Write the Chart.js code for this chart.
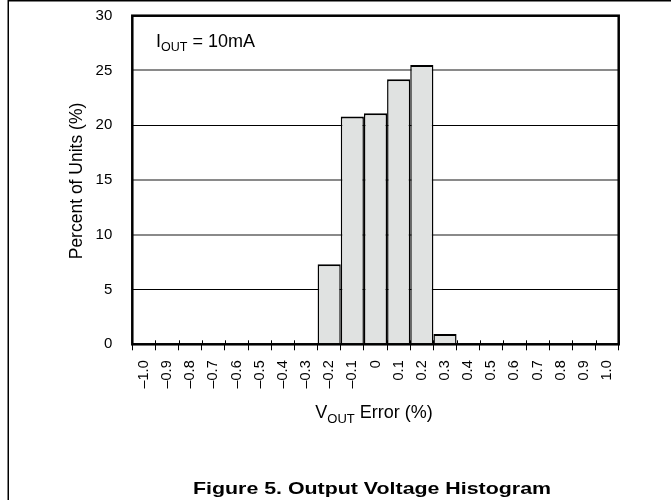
<!DOCTYPE html>
<html>
<head>
<meta charset="utf-8">
<script src="https://cdn.jsdelivr.net/npm/chart.js@4.4.0/dist/chart.umd.min.js"></script>
<style>
html,body{margin:0;padding:0;background:#fff;}
#wrap{width:671px;height:500px;position:relative;}
</style>
</head>
<body>
<div id="wrap"><canvas id="c" width="671" height="500"></canvas></div>
<script>
const categories = ['\u20131.0','\u20130.9','\u20130.8','\u20130.7','\u20130.6','\u20130.5','\u20130.4','\u20130.3','\u20130.2','\u20130.1','0','0.1','0.2','0.3','0.4','0.5','0.6','0.7','0.8','0.9','1.0'];
const percentOfUnits = [0,0,0,0,0,0,0,0,7.3,20.8,21.1,24.2,25.5,0.95,0,0,0,0,0,0,0];
const yTicks = [0,5,10,15,20,25,30];
const yTitle = 'Percent of Units (%)';
const xTitleParts = [['V',false],['OUT',true],[' Error (%)',false]];
const noteParts = [['I',false],['OUT',true],[' = 10mA',false]];
const figureTitle = 'Figure 5. Output Voltage Histogram';

const FONT = '"Liberation Sans", Arial, Helvetica, sans-serif';

function drawParts(ctx, parts, x, y, size, subSize, subDrop, align){
  let w = 0;
  parts.forEach(p=>{ctx.font=(p[1]?subSize:size)+'px '+FONT; w+=ctx.measureText(p[0]).width;});
  let cx = align==='center' ? x - w/2 : x;
  ctx.textAlign='left'; ctx.textBaseline='alphabetic';
  parts.forEach(p=>{
    ctx.font=(p[1]?subSize:size)+'px '+FONT;
    ctx.fillText(p[0], cx, y + (p[1]?subDrop:0));
    cx += ctx.measureText(p[0]).width;
  });
}

const deco = {
  id:'deco',
  afterDatasetsDraw(chart){
    const ctx = chart.ctx, a = chart.chartArea, xs = chart.scales.x;
    ctx.save();
    const half = (xs.getPixelForValue(1)-xs.getPixelForValue(0))/2;
    ctx.strokeStyle='#000'; ctx.lineWidth=1;
    for(let i=0;i<=categories.length;i++){
      const px = Math.round(xs.getPixelForValue(0)-half + i*2*half)+0.5;
      ctx.beginPath(); ctx.moveTo(px, a.bottom-4); ctx.lineTo(px, a.bottom); ctx.stroke();
    }
    ctx.lineWidth=2.5; ctx.strokeStyle='#000';
    ctx.strokeRect(a.left, a.top, a.right-a.left, a.bottom-a.top);
    ctx.restore();
  },
  afterDraw(chart){
    const ctx = chart.ctx;
    ctx.save();
    ctx.strokeStyle='#000'; ctx.lineWidth=1.5;
    ctx.beginPath(); ctx.moveTo(8.25,0); ctx.lineTo(8.25,500); ctx.stroke();
    ctx.beginPath(); ctx.moveTo(8,0.75); ctx.lineTo(671,0.75); ctx.stroke();
    ctx.fillStyle='#000';
    drawParts(ctx, noteParts, 156, 47, 18, 12.5, 4, 'left');
    drawParts(ctx, xTitleParts, 374, 418, 18, 13, 5, 'center');
    ctx.save();
    ctx.translate(77,181); ctx.rotate(-Math.PI/2);
    ctx.font='17.5px '+FONT; ctx.textAlign='center'; ctx.textBaseline='middle';
    ctx.fillText(yTitle,0,0);
    ctx.restore();
    ctx.save();
    ctx.font='bold 17px '+FONT;
    const w = ctx.measureText(figureTitle).width;
    const sx = 358/w;
    ctx.translate(372,494); ctx.scale(sx,1);
    ctx.textAlign='center'; ctx.textBaseline='alphabetic';
    ctx.fillText(figureTitle,0,0);
    ctx.restore();
    ctx.restore();
  }
};

new Chart(document.getElementById('c'), {
  type:'bar',
  data:{
    labels:categories,
    datasets:[{
      data:percentOfUnits,
      backgroundColor:'#e0e2e1',
      borderColor:'#000',
      borderWidth:{top:2,left:1.5,right:1.5,bottom:0},
      borderSkipped:false,
      inflateAmount:0,
      barPercentage:1,
      categoryPercentage:1
    }]
  },
  options:{
    responsive:false,
    animation:false,
    devicePixelRatio:1,
    layout:{padding:{left:0,right:52.3,top:15.7,bottom:0}},
    plugins:{legend:{display:false},tooltip:{enabled:false},title:{display:false}},
    scales:{
      x:{
        grid:{display:true,drawOnChartArea:false,drawTicks:true,tickLength:6,color:'#000',tickColor:'#000',lineWidth:1,offset:true},
        border:{display:false},
        ticks:{color:'#000',font:{family:FONT,size:14.5},minRotation:90,maxRotation:90,padding:10,autoSkip:false},
        afterFit(s){s.height=500-344.3; s.paddingLeft=0; s.paddingRight=0;}
      },
      y:{
        min:0,max:30,
        afterBuildTicks(s){s.ticks=yTicks.map(v=>({value:v}));},
        grid:{
          drawTicks:false,
          color:(c)=>(c.tick && (c.tick.value===5||c.tick.value===20))?'#000':'#8a8a8a',
          lineWidth:(c)=>(c.tick && (c.tick.value===5||c.tick.value===20))?1:2
        },
        border:{display:false},
        ticks:{color:'#000',font:{family:FONT,size:15},padding:20},
        afterFit(s){s.width=132.3; s.paddingTop=0; s.paddingBottom=0;}
      }
    }
  },
  plugins:[deco]
});
</script>
</body>
</html>
